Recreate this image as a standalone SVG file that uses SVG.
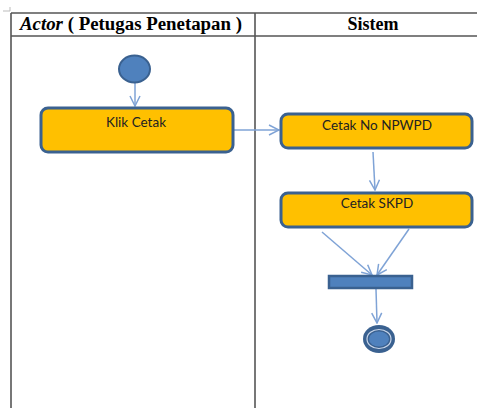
<svg xmlns="http://www.w3.org/2000/svg" width="477" height="408" viewBox="0 0 477 408">
<defs>
<style>
.tbl{stroke:#555;stroke-width:1.6;fill:none}
.hdr{font-family:"Liberation Serif","Times New Roman",serif;font-weight:bold;font-size:18px;fill:#000}
.act{fill:#FFC000;stroke:#3A6190;stroke-width:3}
.lbl{font-family:"Lato","Liberation Sans",sans-serif;font-size:13.5px;fill:#222;text-anchor:middle}
.con{stroke:#7FA3D6;stroke-width:1.5;fill:none}
</style>
<marker id="ah" viewBox="0 0 12 12" refX="11" refY="6" markerWidth="12" markerHeight="12" markerUnits="userSpaceOnUse" orient="auto">
<path d="M1,1 L11,6 L1,11" fill="none" stroke="#7FA3D6" stroke-width="1.5"/>
</marker>
</defs>
<rect width="477" height="408" fill="#fff"/>
<g id="table">
<path d="M3,11 H10 V7" stroke="#bbb" stroke-width="1" fill="none"/>
<line class="tbl" x1="11" y1="13" x2="477" y2="13"/>
<line class="tbl" x1="11" y1="36" x2="477" y2="36"/>
<line class="tbl" x1="11" y1="13" x2="11" y2="408"/>
<line class="tbl" x1="255" y1="13" x2="255" y2="408"/>
<text class="hdr" x="20" y="30" textLength="222" lengthAdjust="spacingAndGlyphs"><tspan font-style="italic">Actor</tspan> ( Petugas Penetapan )</text>
<text class="hdr" x="373" y="30" text-anchor="middle">Sistem</text>
</g>
<g id="connectors">
<line class="con" x1="135" y1="83" x2="135" y2="106" marker-end="url(#ah)"/>
<line class="con" x1="234" y1="130" x2="279" y2="130" marker-end="url(#ah)"/>
<line class="con" x1="373" y1="152" x2="375" y2="190" marker-end="url(#ah)"/>
<line class="con" x1="322" y1="232" x2="372" y2="275" marker-end="url(#ah)"/>
<line class="con" x1="409" y1="229" x2="377" y2="275" marker-end="url(#ah)"/>
<line class="con" x1="376" y1="289" x2="377" y2="323" marker-end="url(#ah)"/>
</g>
<g id="start">
<ellipse cx="134.5" cy="69" rx="15.5" ry="13.5" fill="#4F81BD" stroke="#3A6190" stroke-width="2"/>
</g>
<g id="klik-cetak">
<rect class="act" x="41" y="108" width="192" height="44" rx="7"/>
<text class="lbl" x="136" y="127">Klik Cetak</text>
</g>
<g id="cetak-npwpd">
<rect class="act" x="281" y="114" width="191" height="34" rx="7"/>
<text class="lbl" x="377" y="130">Cetak No NPWPD</text>
</g>
<g id="cetak-skpd">
<rect class="act" x="281" y="193" width="191" height="34" rx="7"/>
<text class="lbl" x="377" y="208">Cetak SKPD</text>
</g>
<g id="join">
<rect x="329" y="276" width="83" height="12" fill="#4F81BD" stroke="#3A6190" stroke-width="2.5"/>
</g>
<g id="end">
<ellipse cx="379" cy="339" rx="16" ry="14" fill="#3A6190"/>
<ellipse cx="379" cy="339" rx="12" ry="9.5" fill="none" stroke="#c9d6ea" stroke-width="1.2"/>
<ellipse cx="379" cy="339" rx="10" ry="7.5" fill="#4F81BD"/>
</g>
</svg>
